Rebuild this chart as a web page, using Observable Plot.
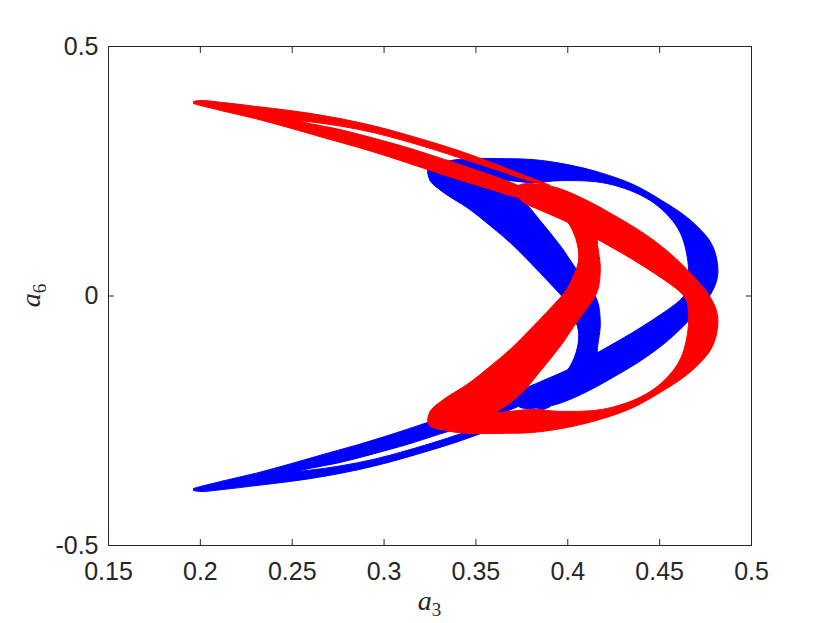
<!DOCTYPE html>
<html><head><meta charset="utf-8">
<script src="https://cdn.jsdelivr.net/npm/d3@7"></script>
<script src="https://cdn.jsdelivr.net/npm/@observablehq/plot@0.6"></script>
<style>body{margin:0;background:#fff}</style>
</head><body><div id="chart"></div>
<script>
// axes
const xTicks = [0.15, 0.2, 0.25, 0.3, 0.35, 0.4, 0.45, 0.5];
const yTicks = [-0.5, 0, 0.5];
const xName = "a", xSub = "3";
const yName = "a", ySub = "6";

// blue orbit section (outline polygons, [a3, a6])
const blueArmInner = [[0.1960,-0.3867],[0.2124,-0.3706],[0.2309,-0.3546],[0.2489,-0.3365],[0.2669,-0.3175],[0.2854,-0.2984],[0.3033,-0.2783],[0.3213,-0.2563],[0.3398,-0.2342],[0.3578,-0.2141],[0.3742,-0.1981],[0.3785,-0.2081],[0.3431,-0.2613],[0.3306,-0.2763],[0.3126,-0.2974],[0.2941,-0.3164],[0.2761,-0.3335],[0.2560,-0.3485],[0.2434,-0.3626],[0.2271,-0.3736],[0.2124,-0.3826]];
const blueArmOuter = [[0.1960,-0.3887],[0.2124,-0.3746],[0.2309,-0.3646],[0.2434,-0.3546],[0.2560,-0.3506],[0.2761,-0.3405],[0.2941,-0.3275],[0.3126,-0.3094],[0.3306,-0.2894],[0.3431,-0.2743],[0.3633,-0.2503],[0.3796,-0.2302],[0.3905,-0.2212],[0.3769,-0.2412],[0.3578,-0.2683],[0.3398,-0.2924],[0.3213,-0.3134],[0.3033,-0.3325],[0.2854,-0.3485],[0.2669,-0.3616],[0.2489,-0.3716],[0.2309,-0.3796],[0.2124,-0.3877],[0.1998,-0.3917]];
const blueLoop = [[0.3720,-0.2056],[0.3736,-0.2222],[0.3905,-0.2202],[0.4068,-0.1981],[0.4270,-0.1580],[0.4412,-0.1259],[0.4543,-0.0898],[0.4684,-0.0396],[0.4776,0.0025],[0.4815,0.0386],[0.4809,0.0767],[0.4776,0.1088],[0.4706,0.1389],[0.4630,0.1630],[0.4504,0.1931],[0.4357,0.2232],[0.4177,0.2472],[0.3998,0.2633],[0.3812,0.2733],[0.3633,0.2753],[0.3469,0.2753],[0.3360,0.2713],[0.3290,0.2633],[0.3251,0.2513],[0.3273,0.2392],[0.3360,0.2412],[0.3524,0.2372],[0.3687,0.2312],[0.3812,0.2272],[0.3959,0.2312],[0.4216,0.2252],[0.4450,0.1911],[0.4597,0.1369],[0.4651,0.0767],[0.4651,0.0145],[0.4624,-0.0035],[0.4412,-0.0597],[0.4161,-0.1138],[0.3998,-0.1479],[0.3850,-0.1720],[0.3758,-0.1881]];
const blueBroad = [[0.3240,0.2553],[0.3251,0.2312],[0.3333,0.2051],[0.3453,0.1770],[0.3578,0.1409],[0.3687,0.1068],[0.3796,0.0667],[0.3905,0.0246],[0.3987,-0.0095],[0.4030,-0.0396],[0.4058,-0.0697],[0.4052,-0.1038],[0.4014,-0.1399],[0.3959,-0.1660],[0.3878,-0.1860],[0.3769,-0.1981],[0.4177,-0.1339],[0.4161,-0.1159],[0.4177,-0.0557],[0.4161,-0.0095],[0.4112,0.0206],[0.4052,0.0507],[0.3959,0.1008],[0.3850,0.1509],[0.3758,0.1911],[0.3660,0.2212],[0.3524,0.2472],[0.3360,0.2672],[0.3279,0.2653]];

// red orbit section (outline polygons, [a3, a6])
const redArmInner = [[0.1960,0.3867],[0.2124,0.3706],[0.2309,0.3546],[0.2489,0.3365],[0.2669,0.3175],[0.2854,0.2984],[0.3033,0.2783],[0.3213,0.2563],[0.3398,0.2342],[0.3578,0.2141],[0.3742,0.1981],[0.3785,0.2081],[0.3431,0.2613],[0.3306,0.2763],[0.3126,0.2974],[0.2941,0.3164],[0.2761,0.3335],[0.2560,0.3485],[0.2434,0.3626],[0.2271,0.3736],[0.2124,0.3826]];
const redArmOuter = [[0.1960,0.3887],[0.2124,0.3746],[0.2309,0.3646],[0.2434,0.3546],[0.2560,0.3506],[0.2761,0.3405],[0.2941,0.3275],[0.3126,0.3094],[0.3306,0.2894],[0.3431,0.2743],[0.3633,0.2503],[0.3796,0.2302],[0.3905,0.2212],[0.3769,0.2412],[0.3578,0.2683],[0.3398,0.2924],[0.3213,0.3134],[0.3033,0.3325],[0.2854,0.3485],[0.2669,0.3616],[0.2489,0.3716],[0.2309,0.3796],[0.2124,0.3877],[0.1998,0.3917]];
const redLoop = [[0.3720,0.2056],[0.3736,0.2222],[0.3905,0.2202],[0.4068,0.1981],[0.4270,0.1580],[0.4412,0.1259],[0.4543,0.0898],[0.4684,0.0396],[0.4776,-0.0025],[0.4815,-0.0386],[0.4809,-0.0767],[0.4776,-0.1088],[0.4706,-0.1389],[0.4630,-0.1630],[0.4504,-0.1931],[0.4357,-0.2232],[0.4177,-0.2472],[0.3998,-0.2633],[0.3812,-0.2733],[0.3633,-0.2753],[0.3469,-0.2753],[0.3360,-0.2713],[0.3290,-0.2633],[0.3251,-0.2513],[0.3273,-0.2392],[0.3360,-0.2412],[0.3524,-0.2372],[0.3687,-0.2312],[0.3812,-0.2272],[0.3959,-0.2312],[0.4216,-0.2252],[0.4450,-0.1911],[0.4597,-0.1369],[0.4651,-0.0767],[0.4651,-0.0145],[0.4624,0.0035],[0.4412,0.0597],[0.4161,0.1138],[0.3998,0.1479],[0.3850,0.1720],[0.3758,0.1881]];
const redBroad = [[0.3240,-0.2553],[0.3251,-0.2312],[0.3333,-0.2051],[0.3453,-0.1770],[0.3578,-0.1409],[0.3687,-0.1068],[0.3796,-0.0667],[0.3905,-0.0246],[0.3987,0.0095],[0.4030,0.0396],[0.4058,0.0697],[0.4052,0.1038],[0.4014,0.1399],[0.3959,0.1660],[0.3878,0.1860],[0.3769,0.1981],[0.4177,0.1339],[0.4161,0.1159],[0.4177,0.0557],[0.4161,0.0095],[0.4112,-0.0206],[0.4052,-0.0507],[0.3959,-0.1008],[0.3850,-0.1509],[0.3758,-0.1911],[0.3660,-0.2212],[0.3524,-0.2472],[0.3360,-0.2672],[0.3279,-0.2653]];

const toRows = (pieces) => pieces.flatMap(([name, pts]) => pts.map(([x, y]) => ({piece: name, x, y})));
const blueRows = toRows([["armInner", blueArmInner], ["armOuter", blueArmOuter], ["loop", blueLoop], ["broad", blueBroad]]);
const redRows = toRows([["armInner", redArmInner], ["armOuter", redArmOuter], ["loop", redLoop], ["broad", redBroad]]);

const ink = "#262626";
const plot = Plot.plot({
  width: 830, height: 623,
  marginLeft: 108, marginRight: 79, marginTop: 46, marginBottom: 78,
  x: {domain: [0.15, 0.5]},
  y: {domain: [-0.5, 0.5]},
  style: {fontFamily: "'Liberation Sans', Arial, sans-serif", fontSize: "25px", color: ink, background: "#fff", overflow: "visible"},
  marks: [
    Plot.line(blueRows, {x: "x", y: "y", z: "piece", fill: "#0000ff", stroke: "#0000ff", strokeWidth: 1, curve: "catmull-rom-closed"}),
    Plot.line(redRows, {x: "x", y: "y", z: "piece", fill: "#ff0000", stroke: "#ff0000", strokeWidth: 1, curve: "catmull-rom-closed"}),
    Plot.frame({stroke: ink, strokeWidth: 1}),
    Plot.axisX({anchor: "bottom", ticks: xTicks, tickSize: -6, tickPadding: 23, tickFormat: d => String(d), fontSize: 25, label: null, stroke: ink, fill: ink}),
    Plot.axisX({anchor: "top", ticks: xTicks, tickSize: -6, fill: "none", stroke: ink, label: null}),
    Plot.axisY({anchor: "left", ticks: yTicks, tickSize: -6, tickPadding: 16, tickFormat: d => String(d), fontSize: 25, label: null, stroke: ink, fill: ink}),
    Plot.axisY({anchor: "right", ticks: yTicks, tickSize: -6, fill: "none", stroke: ink, label: null})
  ]
});
document.getElementById("chart").appendChild(plot);

// axis titles with math-style subscripts
const sx = plot.scale("x"), sy = plot.scale("y");
const svg = d3.select(plot.tagName.toLowerCase() === "svg" ? plot : plot.querySelector("svg"));
const cx = sx.apply((xTicks[0] + xTicks[xTicks.length - 1]) / 2);
const cy = sy.apply((yTicks[0] + yTicks[yTicks.length - 1]) / 2);
const xt = svg.append("text").attr("x", cx).attr("y", 610).attr("text-anchor", "middle")
  .attr("fill", ink).style("font-family", "'Liberation Serif', 'DejaVu Serif', serif").style("font-size", "28px");
xt.append("tspan").style("font-style", "italic").text(xName);
xt.append("tspan").attr("dy", 6).style("font-size", "19px").text(xSub);
const yt = svg.append("text").attr("transform", `translate(40,${cy}) rotate(-90)`).attr("text-anchor", "middle")
  .attr("fill", ink).style("font-family", "'Liberation Serif', 'DejaVu Serif', serif").style("font-size", "28px");
yt.append("tspan").style("font-style", "italic").text(yName);
yt.append("tspan").attr("dy", 6).style("font-size", "19px").text(ySub);
</script>
</body></html>
